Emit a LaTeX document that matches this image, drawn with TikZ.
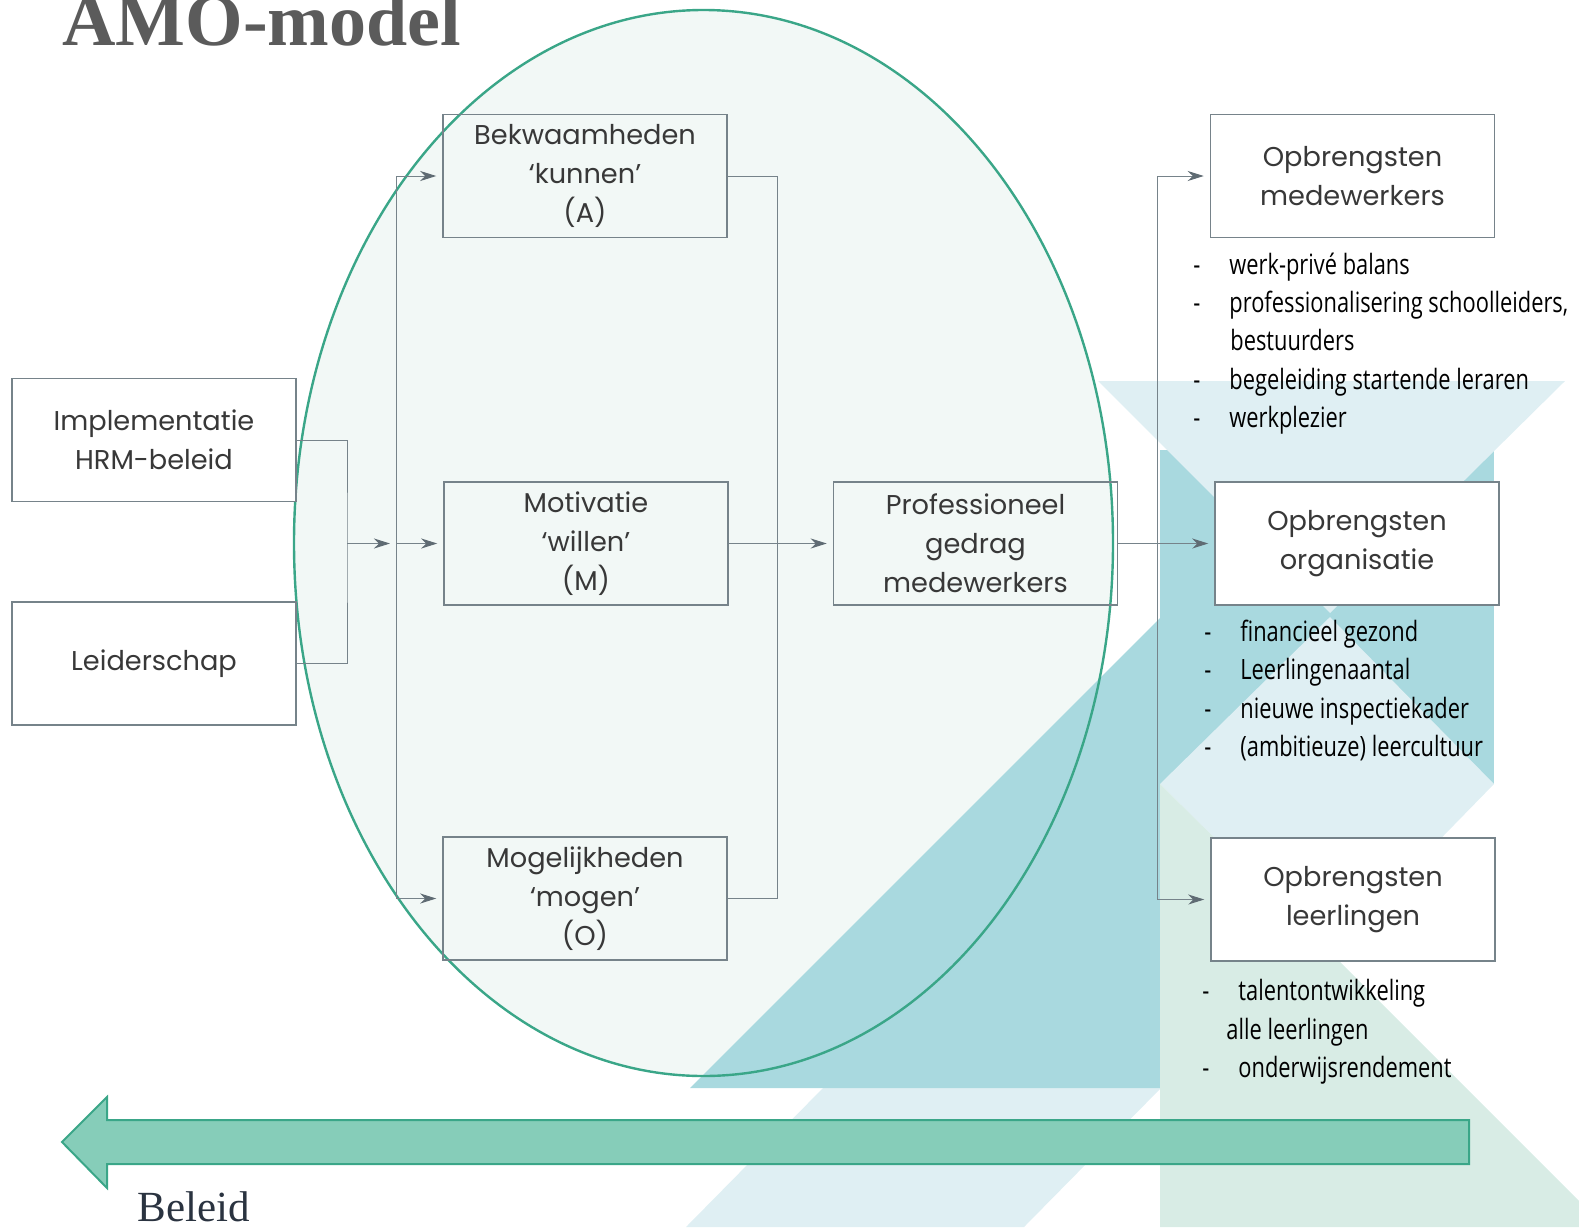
\documentclass[tikz,border=0pt]{standalone}
\usepackage{fontspec}
\setmainfont{Liberation Serif}
\newfontfamily\boxfont{Poppins}
\newfontfamily\listfont[FakeStretch=0.78]{Open Sans}
\usetikzlibrary{positioning,arrows.meta}

\definecolor{amogreen}{HTML}{3AA688}
\definecolor{amofill}{HTML}{F2F8F6}
\definecolor{amoteal}{HTML}{A9D9DF}
\definecolor{amoblue}{HTML}{DFEFF3}
\definecolor{amomint}{HTML}{D8ECE5}
\definecolor{amoarrow}{HTML}{86CDB9}
\definecolor{boxline}{HTML}{76838A}
\definecolor{tipgray}{HTML}{5F6B73}
\definecolor{boxtext}{HTML}{383838}
\definecolor{titlegray}{HTML}{5B5B5B}
\definecolor{beleidtext}{HTML}{2A3340}

\newcommand{\lstdash}{\makebox[18pt][l]{-}}

\begin{document}
\begin{tikzpicture}[x=0.5pt,y=-0.5pt,
    box/.style={rectangle, draw=boxline, line width=0.75pt, minimum width=142pt, minimum height=61.5pt, inner sep=2pt, align=center, text=boxtext, font=\boxfont\fontsize{13.6}{19.4}\selectfont},
    whitebox/.style={box, fill=white},
    link/.style={draw=boxline, line width=0.5pt},
    arr/.style={link, -{Stealth[length=8pt,width=5pt,inset=2.5pt,color=tipgray]}, shorten >=3pt},
    item/.style={anchor=base west, inner sep=0pt, font=\listfont\fontsize{14}{19}\selectfont}]

    \useasboundingbox (0,0) rectangle (1579,1227);

    % background
    \fill[amofill] (703.5,543) ellipse [x radius=204.75pt, y radius=266.5pt];
    \fill[amoblue] (823,1088) -- (1161,1088) -- (1024,1227) -- (686,1227) -- cycle;
    \fill[amoteal] (690,1088) -- (1160,1088) -- (1160,618) -- cycle;
    \fill[amoteal] (1160,450) rectangle (1494,784);
    \fill[amoblue] (1098,381) -- (1565,381) -- (1330,613) -- cycle;
    \fill[amoblue] (1330,617) -- (1494,784) -- (1330,952) -- (1160,784) -- cycle;
    \fill[amomint] (1160,784) -- (1330,952) -- (1579,1201) -- (1579,1227) -- (1160,1227) -- cycle;
    \draw[amogreen, line width=1.2pt] (703.5,543) ellipse [x radius=204.75pt, y radius=266.5pt];

    \node[anchor=base west, inner sep=0pt, text=titlegray, font=\bfseries\fontsize{37}{37}\selectfont] (title) at (62,45) {AMO-model};

    % boxes
    \node[whitebox] (hrm) at (154,440) {Implementatie\\HRM-beleid};
    \node[whitebox] (leid) [below=49.5pt of hrm] {Leiderschap};
    \node[box] (bek) at (585,176) {Bekwaamheden\\‘kunnen’\\(A)};
    \node[box] (mot) at (586,543.5) {Motivatie\\‘willen’\\(M)};
    \node[box] (mog) at (585,898.5) {Mogelijkheden\\‘mogen’\\(O)};
    \node[box] (prof) [right=52pt of mot] {Professioneel\\gedrag\\medewerkers};
    \node[whitebox] (oorg) [right=48pt of prof] {Opbrengsten\\organisatie};
    \node[whitebox] (omw) at (1352.5,176) {Opbrengsten\\medewerkers};
    \node[whitebox] (olln) at (1353,899.5) {Opbrengsten\\leerlingen};

    % connectors
    \coordinate (jl) at (347,543.5);
    \coordinate (jb) at (396,543.5);
    \coordinate (jr) at (777,543.5);
    \coordinate (jo) at (1157,543.5);
    \draw[link] (hrm.east) -| (jl) |- (leid.east);
    \draw[arr] (jl) -- (jb);
    \draw[arr] (jb) -- (mot.west);
    \draw[arr] (jb) |- (bek.west);
    \draw[arr] (jb) |- (mog.west);
    \draw[link] (bek.east) -| (jr) |- (mog.east);
    \draw[arr] (mot.east) -- (prof.west);
    \draw[arr] (prof.east) -- (oorg.west);
    \draw[arr] (jo) |- (omw.west);
    \draw[arr] (jo) |- (olln.west);

    % lists
    \node[item] (mw1) at (1193,274) {\lstdash werk-privé balans};
    \node[item] (mw2) at (1193,312) {\lstdash professionalisering schoolleiders,};
    \node[item] (mw3) at (1230,350) {bestuurders};
    \node[item] (mw4) at (1193,389) {\lstdash begeleiding startende leraren};
    \node[item] (mw5) at (1193,427) {\lstdash werkplezier};
    \node[item] (og1) at (1204,641) {\lstdash financieel gezond};
    \node[item] (og2) at (1204,679) {\lstdash Leerlingenaantal};
    \node[item] (og3) at (1204,718) {\lstdash nieuwe inspectiekader};
    \node[item] (og4) at (1204,756) {\lstdash (ambitieuze) leercultuur};
    \node[item] (ll1) at (1202,1000) {\lstdash talentontwikkeling};
    \node[item] (ll2) at (1226,1039) {alle leerlingen};
    \node[item] (ll3) at (1202,1077) {\lstdash onderwijsrendement};

    % beleid arrow
    \filldraw[draw=amogreen, fill=amoarrow, line width=1pt] (1469,1120) -- (107,1120) -- (107,1097) -- (62,1142) -- (107,1188) -- (107,1164) -- (1469,1164) -- cycle;
    \node[anchor=base west, inner sep=0pt, text=beleidtext, font=\fontsize{21.5}{22}\selectfont] (beleid) at (137,1221) {Beleid};

\end{tikzpicture}
\end{document}
